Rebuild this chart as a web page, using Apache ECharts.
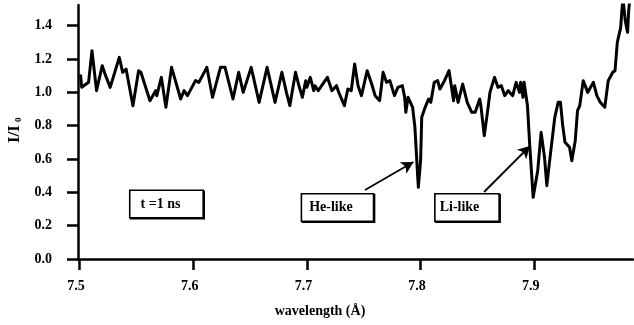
<!DOCTYPE html>
<html>
<head>
<meta charset="utf-8">
<script src="https://cdn.jsdelivr.net/npm/echarts@6/dist/echarts.min.js"></script>
<style>
  html, body { margin: 0; padding: 0; background: #fff; }
  #chart { width: 634px; height: 325px; }
</style>
</head>
<body>
<div id="chart"></div>
<script>
// Transmission spectrum I/I0 versus wavelength (Å), t = 1 ns
const wavelength = [
  7.501, 7.502, 7.508, 7.511, 7.515, 7.520, 7.523, 7.527, 7.535, 7.538,
  7.541, 7.547, 7.552, 7.554, 7.562, 7.567, 7.568, 7.572, 7.576, 7.581,
  7.589, 7.592, 7.595, 7.602, 7.605, 7.612, 7.617, 7.624, 7.628, 7.635,
  7.640, 7.644, 7.651, 7.658, 7.665, 7.672, 7.678, 7.682, 7.685, 7.690,
  7.693, 7.696, 7.699, 7.700, 7.703, 7.706, 7.707, 7.710, 7.713, 7.718,
  7.722, 7.726, 7.728, 7.733, 7.736, 7.739, 7.742, 7.745, 7.748, 7.753,
  7.757, 7.760, 7.764, 7.767, 7.770, 7.773, 7.777, 7.780, 7.784, 7.786,
  7.787, 7.789, 7.793, 7.795, 7.798, 7.800, 7.801, 7.804, 7.807, 7.809,
  7.812, 7.815, 7.817, 7.821, 7.825, 7.829, 7.830, 7.833, 7.837, 7.841,
  7.845, 7.848, 7.852, 7.853, 7.856, 7.859, 7.861, 7.865, 7.868, 7.871,
  7.874, 7.877, 7.881, 7.884, 7.887, 7.888, 7.890, 7.891, 7.894, 7.896,
  7.899, 7.903, 7.906, 7.909, 7.911, 7.914, 7.918, 7.921, 7.923, 7.925,
  7.927, 7.931, 7.933, 7.936, 7.938, 7.940, 7.943, 7.947, 7.952, 7.955,
  7.958, 7.962, 7.965, 7.969, 7.971, 7.973, 7.976, 7.977, 7.978, 7.980,
  7.982, 7.983, 7.984, 7.986
];
const intensity = [
  1.10, 1.03, 1.06, 1.25, 1.01, 1.16, 1.10, 1.03, 1.21, 1.12,
  1.14, 0.92, 1.13, 1.12, 0.95, 1.01, 0.98, 1.09, 0.91, 1.15,
  0.96, 1.01, 0.98, 1.07, 1.06, 1.15, 0.97, 1.15, 1.15, 0.96,
  1.12, 1.00, 1.15, 0.94, 1.15, 0.94, 1.12, 1.00, 0.92, 1.12,
  1.04, 0.97, 1.07, 1.03, 1.09, 1.01, 1.04, 1.01, 1.04, 1.09,
  1.01, 1.04, 1.00, 0.92, 1.02, 1.01, 1.17, 1.04, 0.98, 1.13,
  1.05, 0.98, 0.95, 1.12, 1.06, 1.07, 0.98, 1.03, 1.04, 0.97,
  0.88, 0.97, 0.91, 0.79, 0.43, 0.59, 0.85, 0.91, 0.96, 0.94,
  1.06, 1.07, 1.02, 1.07, 1.13, 0.95, 1.04, 0.94, 1.05, 0.94,
  0.88, 0.88, 0.96, 0.92, 0.74, 0.89, 1.00, 1.09, 1.03, 1.04,
  0.98, 1.01, 0.98, 1.06, 1.00, 1.06, 0.97, 1.06, 0.92, 0.68,
  0.37, 0.53, 0.76, 0.61, 0.44, 0.62, 0.85, 0.94, 0.94, 0.80,
  0.70, 0.67, 0.59, 0.71, 0.89, 0.92, 1.07, 1.00, 1.06, 0.98,
  0.94, 0.91, 1.07, 1.12, 1.13, 1.30, 1.39, 1.49, 1.56, 1.43,
  1.36, 1.49, 1.56, 1.58
];

// axis tick positions
const xTicks = [7.5, 7.6, 7.7, 7.8, 7.9];
const yTicks = [0.0, 0.2, 0.4, 0.6, 0.8, 1.0, 1.2, 1.4];

// text boxes: [wavelength, I/I0, text]
const boxLabels = [
  [7.5765, 0.330, 't =1 ns'],
  [7.7269, 0.309, 'He-like'],
  [7.8408, 0.309, 'Li-like']
];
// arrows: [fromWavelength, fromValue, toWavelength, toValue]
const arrows = [
  [7.7511, 0.414, 7.7937, 0.582],
  [7.8558, 0.402, 7.8962, 0.678]
];

const FONT = '"Liberation Serif", "Times New Roman", serif';
const boxPads = [[6, 22, 6, 10], [6, 20, 6, 7], [6, 19, 6, 4]];

const chart = echarts.init(document.getElementById('chart'), null, { renderer: 'canvas' });

chart.setOption({
  animation: false,
  backgroundColor: '#fff',
  grid: { left: 78, right: 1, top: 5, bottom: 66, containLabel: false },
  xAxis: {
    type: 'value',
    min: 7.4987,
    max: 7.9868,
    axisLine: { show: true, onZero: false, lineStyle: { color: '#000', width: 2.5 } },
    axisTick: { show: true, length: 11, lineStyle: { color: '#000', width: 2.5 }, customValues: xTicks },
    axisLabel: {
      customValues: xTicks,
      formatter: v => v.toFixed(1),
      color: '#000', fontFamily: FONT, fontWeight: 'bold', fontSize: 14,
      margin: 20, padding: [0, 7, 0, 0]
    },
    splitLine: { show: false }
  },
  yAxis: {
    type: 'value',
    min: 0,
    max: 1.524,
    axisLine: { show: true, lineStyle: { color: '#000', width: 2.5 } },
    axisTick: { show: true, length: 11, lineStyle: { color: '#000', width: 2.5 }, customValues: yTicks },
    axisLabel: {
      customValues: yTicks,
      formatter: v => v.toFixed(1),
      color: '#000', fontFamily: FONT, fontWeight: 'bold', fontSize: 14,
      margin: 26
    },
    splitLine: { show: false }
  },
  graphic: [
    {
      // x-axis title
      type: 'text',
      style: {
        text: 'wavelength (Å)', x: 320, y: 311,
        align: 'center', verticalAlign: 'middle',
        fill: '#000', font: 'bold 14px ' + FONT
      }
    },
    {
      // y-axis title I/I0, read bottom to top
      type: 'group', x: 15, y: 143, rotation: Math.PI / 2,
      children: [
        { type: 'text', style: { text: 'I/I', x: 0, y: 0, align: 'left', verticalAlign: 'middle', fill: '#000', font: 'bold 17px ' + FONT } },
        { type: 'text', style: { text: '0', x: 21, y: 4, align: 'left', verticalAlign: 'middle', fill: '#000', font: 'bold 9px ' + FONT } }
      ]
    }
  ],
  series: [{
    type: 'line',
    data: wavelength.map((w, i) => [w, intensity[i]]),
    showSymbol: false,
    symbol: 'none',
    clip: true,
    lineStyle: { color: '#000', width: 3, join: 'round', cap: 'round' },
    markLine: {
      silent: true,
      symbol: ['none', 'arrow'],
      symbolSize: [10, 12],
      label: { show: false },
      lineStyle: { color: '#000', width: 1.8, type: 'solid' },
      data: arrows.map(a => [{ coord: [a[0], a[1]] }, { coord: [a[2], a[3]] }])
    },
    markPoint: {
      silent: true,
      symbol: 'rect',
      symbolSize: 0,
      data: boxLabels.map((b, i) => ({
        coord: [b[0], b[1]],
        label: {
          show: true,
          position: 'inside',
          formatter: b[2],
          color: '#000',
          fontFamily: FONT, fontWeight: 'bold', fontSize: 14,
          backgroundColor: '#fff',
          borderColor: '#000', borderWidth: 1.6,
          padding: boxPads[i],
          shadowColor: '#000', shadowOffsetX: 1, shadowOffsetY: 1, shadowBlur: 0
        }
      }))
    }
  }]
});
</script>
</body>
</html>
